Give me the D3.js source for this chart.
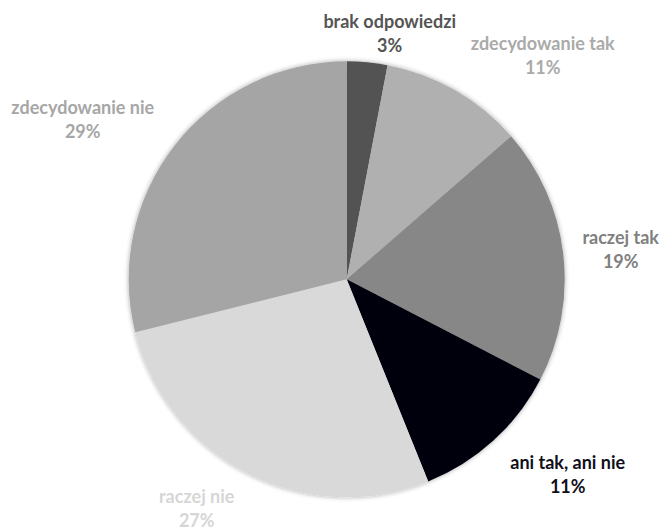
<!DOCTYPE html>
<html>
<head>
<meta charset="utf-8">
<script src="https://cdn.jsdelivr.net/npm/d3@7"></script>
<style>
  html, body { margin: 0; padding: 0; background: #ffffff; }
  svg { display: block; }
  text { font-family: Lato, "Open Sans", sans-serif; font-weight: bold; }
</style>
</head>
<body>
<svg id="chart" width="664" height="529"></svg>
<script>
// ---- data ----
const categories = ["brak odpowiedzi", "zdecydowanie tak", "raczej tak", "ani tak, ani nie", "raczej nie", "zdecydowanie nie"];
const values = [3.0, 10.6, 19.0, 11.3, 27.2, 28.9];

// ---- styles / layout ----
const sliceColors = ["#525252", "#b0b0b0", "#878787", "#04040e", "#d9d9d9", "#a5a5a5"];
const labelColors = ["#555555", "#aaaaaa", "#808080", "#10101c", "#d6d6d6", "#a6a6a6"];
// label centre offsets from the pie centre (x, y), chosen to match the reference
const labelOffsets = [[43, -240], [196, -218], [274, -24], [221, 201], [-150, 235], [-264, -154]];

const W = 664, H = 529;
const cx = 346.7, cy = 279.3, R = 218;
const fontSize = 18, lineGap = 23.4;

const svg = d3.select("#chart");

const defs = svg.append("defs");
const filt = defs.append("filter").attr("id", "glow")
  .attr("x", "-10%").attr("y", "-10%").attr("width", "120%").attr("height", "120%");
filt.append("feGaussianBlur").attr("in", "SourceAlpha").attr("stdDeviation", 2.5).attr("result", "blur");
filt.append("feComponentTransfer").attr("in", "blur").attr("result", "soft")
  .append("feFuncA").attr("type", "linear").attr("slope", 0.35);
const merge = filt.append("feMerge");
merge.append("feMergeNode").attr("in", "soft");
merge.append("feMergeNode").attr("in", "SourceGraphic");

const data = categories.map((c, i) => ({ name: c, value: values[i], i }));
const total = d3.sum(values);

const pie = d3.pie().value(d => d.value).sort(null).startAngle(0).endAngle(2 * Math.PI);
const arc = d3.arc().innerRadius(0).outerRadius(R);

const g = svg.append("g").attr("transform", `translate(${cx},${cy})`);
g.append("g").attr("filter", "url(#glow)")
  .selectAll("path")
  .data(pie(data))
  .join("path")
  .attr("d", arc)
  .attr("fill", d => sliceColors[d.data.i]);

const fmt = d3.format(".0%");
const labels = g.selectAll("text.lbl")
  .data(pie(data))
  .join("text")
  .attr("class", "lbl")
  .attr("text-anchor", "middle")
  .attr("font-size", fontSize)
  .attr("fill", d => labelColors[d.data.i])
  .attr("transform", d => `translate(${labelOffsets[d.data.i][0]},${labelOffsets[d.data.i][1]})`);
labels.append("tspan").attr("x", 0).attr("y", -lineGap / 2 + 0.5).text(d => d.data.name);
labels.append("tspan").attr("x", 0).attr("y", lineGap / 2 + 0.5).text(d => fmt(d.data.value / total));
</script>
</body>
</html>
